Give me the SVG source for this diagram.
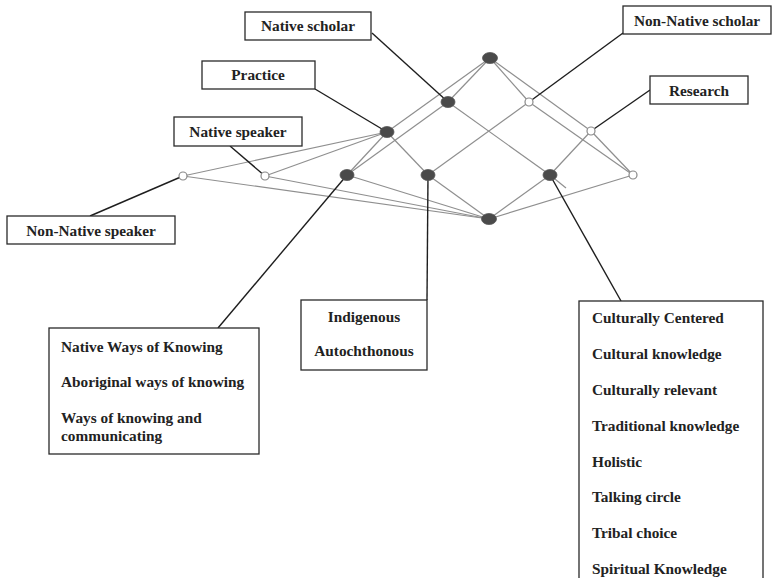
<svg xmlns="http://www.w3.org/2000/svg" width="772" height="578" viewBox="0 0 772 578">
<style>
.bg{fill:#fff}
.edge{stroke:#8f8f8f;stroke-width:1.2;fill:none}
.lead{stroke:#1e1e1e;stroke-width:1.4;fill:none}
.full{fill:#4a4a4a;stroke:#555;stroke-width:0.8}
.open{fill:#fff;stroke:#888;stroke-width:1.2}
.box{fill:#fff;stroke:#2a2a2a;stroke-width:1.3}
.t{font-family:"Liberation Serif","Times New Roman",serif;font-weight:bold;font-size:15.3px;fill:#222}
.c{text-anchor:middle}
</style>
<rect class="bg" x="0" y="0" width="772" height="578"/>
<g id="connectors">
<g id="lattice-edges">
<line class="edge" x1="490" y1="58" x2="448" y2="102"/>
<line class="edge" x1="490" y1="58" x2="387" y2="132"/>
<line class="edge" x1="490" y1="58" x2="529" y2="102"/>
<line class="edge" x1="490" y1="58" x2="591" y2="131"/>
<line class="edge" x1="448" y1="102" x2="347" y2="175"/>
<line class="edge" x1="448" y1="102" x2="550" y2="175"/>
<line class="edge" x1="529" y1="102" x2="428" y2="175"/>
<line class="edge" x1="529" y1="102" x2="633" y2="175"/>
<line class="edge" x1="387" y1="132" x2="183" y2="176"/>
<line class="edge" x1="387" y1="132" x2="265" y2="176"/>
<line class="edge" x1="387" y1="132" x2="347" y2="175"/>
<line class="edge" x1="387" y1="132" x2="428" y2="175"/>
<line class="edge" x1="591" y1="131" x2="550" y2="175"/>
<line class="edge" x1="591" y1="131" x2="633" y2="175"/>
<line class="edge" x1="489" y1="219" x2="183" y2="176"/>
<line class="edge" x1="489" y1="219" x2="265" y2="176"/>
<line class="edge" x1="489" y1="219" x2="347" y2="175"/>
<line class="edge" x1="489" y1="219" x2="428" y2="175"/>
<line class="edge" x1="489" y1="219" x2="550" y2="175"/>
<line class="edge" x1="489" y1="219" x2="633" y2="175"/>
<line class="edge" x1="550" y1="175" x2="566" y2="188"/>
</g>
<g id="leaders">
<line class="lead" x1="372" y1="33" x2="448" y2="102"/>
<line class="lead" x1="315" y1="89" x2="387" y2="132"/>
<line class="lead" x1="230" y1="146" x2="265" y2="176"/>
<line class="lead" x1="90" y1="216" x2="183" y2="176"/>
<line class="lead" x1="623" y1="33" x2="529" y2="102"/>
<line class="lead" x1="650" y1="90" x2="591" y2="131"/>
<line class="lead" x1="218" y1="328" x2="347" y2="175"/>
<line class="lead" x1="427" y1="300" x2="428" y2="175"/>
<line class="lead" x1="621" y1="301" x2="550" y2="175"/>
</g>
</g>
<g id="node-top"><ellipse class="full" cx="490" cy="58" rx="7.5" ry="5.5"/></g>
<g id="node-native-scholar"><ellipse class="full" cx="448" cy="102" rx="7" ry="5.5"/></g>
<g id="node-non-native-scholar"><circle class="open" cx="529" cy="102" r="4"/></g>
<g id="node-practice"><ellipse class="full" cx="387" cy="132" rx="7" ry="5.5"/></g>
<g id="node-research"><circle class="open" cx="591" cy="131" r="4"/></g>
<g id="node-non-native-speaker"><circle class="open" cx="183" cy="176" r="4"/></g>
<g id="node-native-speaker"><circle class="open" cx="265" cy="176" r="4"/></g>
<g id="node-native-ways"><ellipse class="full" cx="347" cy="175" rx="7" ry="5.5"/></g>
<g id="node-indigenous"><ellipse class="full" cx="428" cy="175" rx="7" ry="5.5"/></g>
<g id="node-culturally"><ellipse class="full" cx="550" cy="175" rx="7" ry="5.5"/></g>
<g id="node-right"><circle class="open" cx="633" cy="175" r="4"/></g>
<g id="node-bottom"><ellipse class="full" cx="489" cy="219" rx="7.5" ry="5.5"/></g>
<g id="label-native-scholar"><rect class="box" x="245" y="12" width="126" height="28"/><text class="t c" x="308" y="31">Native scholar</text></g>
<g id="label-practice"><rect class="box" x="202" y="61" width="113" height="28"/><text class="t c" x="258" y="80">Practice</text></g>
<g id="label-native-speaker"><rect class="box" x="174" y="117" width="128" height="29"/><text class="t c" x="238" y="137">Native speaker</text></g>
<g id="label-non-native-speaker"><rect class="box" x="7" y="216" width="168" height="28"/><text class="t c" x="91" y="236">Non-Native speaker</text></g>
<g id="label-non-native-scholar"><rect class="box" x="623" y="6" width="148" height="28"/><text class="t c" x="697" y="26">Non-Native scholar</text></g>
<g id="label-research"><rect class="box" x="650" y="76" width="98" height="28"/><text class="t c" x="699" y="96">Research</text></g>
<g id="box-native-ways"><rect class="box" x="49" y="328" width="210" height="126"/>
<text class="t" x="61" y="352">Native Ways of Knowing</text>
<text class="t" x="61" y="387">Aboriginal ways of knowing</text>
<text class="t" x="61" y="423">Ways of knowing and</text>
<text class="t" x="61" y="441">communicating</text></g>
<g id="box-indigenous"><rect class="box" x="301" y="300" width="126" height="70"/>
<text class="t c" x="364" y="322">Indigenous</text>
<text class="t c" x="364" y="356">Autochthonous</text></g>
<g id="box-culturally"><rect class="box" x="579" y="301" width="184" height="290"/>
<text class="t" x="592" y="323">Culturally Centered</text>
<text class="t" x="592" y="359">Cultural knowledge</text>
<text class="t" x="592" y="395">Culturally relevant</text>
<text class="t" x="592" y="431">Traditional knowledge</text>
<text class="t" x="592" y="467">Holistic</text>
<text class="t" x="592" y="502">Talking circle</text>
<text class="t" x="592" y="538">Tribal choice</text>
<text class="t" x="592" y="574">Spiritual Knowledge</text></g>
</svg>
